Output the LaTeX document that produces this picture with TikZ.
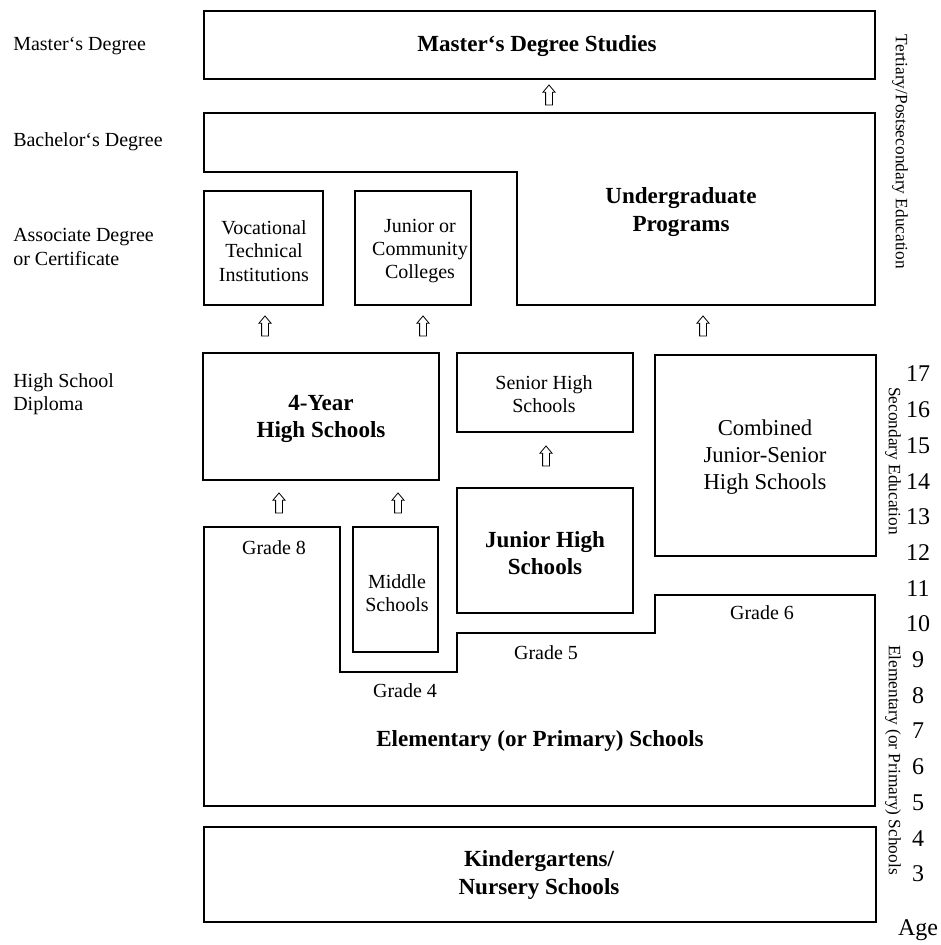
\documentclass[tikz,border=0pt]{standalone}
\usepackage{fontspec}
\setmainfont{Liberation Serif}
\usetikzlibrary{shapes.arrows}
\begin{document}
\begin{tikzpicture}[x=0.75pt,y=-0.75pt,
		box/.style={line width=1.8pt},
		lbl/.style={anchor=west,align=left,inner sep=0pt,font=\fontsize{15}{17.5}\selectfont},
		small/.style={align=center,inner sep=0pt,font=\fontsize{15}{17.5}\selectfont},
		big/.style={align=center,inner sep=0pt,font=\fontsize{17.3}{20.5}\selectfont\bfseries},
		bigthin/.style={align=center,inner sep=0pt,font=\fontsize{17}{20.5}\selectfont},
		grade/.style={inner sep=0pt,font=\fontsize{15}{17}\selectfont},
		side/.style={rotate=-90,inner sep=0pt,font=\fontsize{13}{15}\selectfont},
		age/.style={inner sep=0pt,font=\fontsize{18}{20}\selectfont},
		uparrow/.style={single arrow,draw,line width=0.6pt,shape border rotate=90,
			minimum height=15pt,single arrow head extend=2pt,
			single arrow tip angle=80,inner sep=0pt}]
	\useasboundingbox (0,0) rectangle (941,945);
	% left column
	\node[lbl] (master) at (13,46) {Master‘s Degree};
	\node[lbl] (bachelor) at (13,142) {Bachelor‘s Degree};
	\node[lbl] (assoc) at (13,247) {Associate Degree\\or Certificate};
	\node[lbl] (diploma) at (13,394) {High School\\Diploma};
	% tertiary
	\draw[box] (204,11) rectangle (875,79);
	\node[big] (mds) at (537,46) {Master‘s Degree Studies};
	\draw[box] (204,113) -- (875,113) -- (875,305) -- (517,305) -- (517,172) -- (204,172) -- cycle;
	\node[big] (ugp) at (681,212) {Undergraduate\\Programs};
	\draw[box] (204,191) rectangle (323,305);
	\node[small] (voc) at (264,251) {Vocational\\Technical\\Institutions};
	\draw[box] (355,191) rectangle (471,305);
	\node[small] (jcc) at (420,251) {Junior or\\Community\\Colleges};
	% secondary
	\draw[box] (203,353) rectangle (439,480);
	\node[big] (fyhs) at (321,419) {4-Year\\High Schools};
	\draw[box] (457,353) rectangle (633,432);
	\node[small] (shs) at (544,394) {Senior High\\Schools};
	\draw[box] (655,355) rectangle (876,556);
	\node[bigthin] (cjs) at (765,457) {Combined\\Junior-Senior\\High Schools};
	\draw[box] (457,488) rectangle (633,613);
	\node[big] (jhs) at (545,553) {Junior High\\Schools};
	% elementary
	\draw[box] (204,527) -- (340,527) -- (340,672) -- (457,672) -- (457,633) -- (655,633)
		-- (655,595) -- (875,595) -- (875,806) -- (204,806) -- cycle;
	\draw[box] (353,527) rectangle (438,652);
	\node[small] (mid) at (397,593) {Middle\\Schools};
	\node[big] (elem) at (540,741) {Elementary (or Primary) Schools};
	\node[grade] (g8) at (274,548) {Grade 8};
	\node[grade] (g4) at (405,691) {Grade 4};
	\node[grade] (g5) at (546,653) {Grade 5};
	\node[grade] (g6) at (762,613) {Grade 6};
	\draw[box] (204,827) rectangle (876,922);
	\node[big] (kg) at (539,875) {Kindergartens/\\Nursery Schools};
	% arrows
	\foreach \x/\y [count=\i] in {549/97,265/328,423/328,703/328,546/458,279/505,398/505}
	\node[uparrow] (up\i) at (\x,\y) {\rule{4.5pt}{0pt}};
	% right side
	\node[side] (tert) at (900,152) {Tertiary/Postsecondary Education};
	\node[side] (sec) at (893,461) {Secondary Education};
	\node[side] (elemside) at (893,760) {Elementary (or Primary) Schools};
	\foreach \a [count=\i from 0] in {17,16,...,3}
	\node[age] (age\a) at (918,{374+35.7*\i}) {\a};
	\node[age] (age) at (918,930) {Age};
\end{tikzpicture}
\end{document}
